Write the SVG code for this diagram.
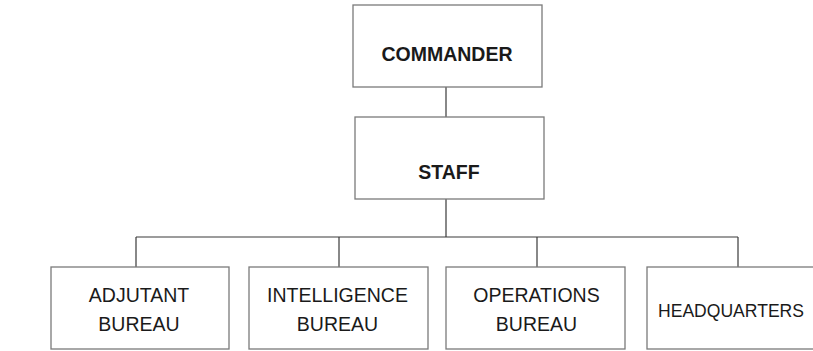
<svg xmlns="http://www.w3.org/2000/svg" width="813" height="351" viewBox="0 0 813 351">
<style>
.box{fill:#fff;stroke:#7a7a7a;stroke-width:1.3}
.t{font-family:"Liberation Sans",Arial,sans-serif;font-size:19.5px;fill:#1a1a1a;text-anchor:middle}
.b{font-weight:bold;font-size:19.5px}
.c{fill:none;stroke:#3a3a3a;stroke-width:1.2}
</style>
<rect width="813" height="351" fill="#fff"/>
<g id="connectors">
<path class="c" d="M446 87V117M446 199V237M136 237H738M136 237V267M339 237V267M537 237V267M738 237V267"/>
</g>
<g id="commander"><rect class="box" x="353" y="5" width="189" height="82"/><text class="t b" x="447" y="61">COMMANDER</text></g>
<g id="staff"><rect class="box" x="355" y="117" width="189" height="82"/><text class="t b" x="449" y="179">STAFF</text></g>
<g id="adjutant"><rect class="box" x="51" y="267" width="178" height="82"/><text class="t" x="139" y="302">ADJUTANT</text><text class="t" x="139" y="331">BUREAU</text></g>
<g id="intelligence"><rect class="box" x="249" y="267" width="179" height="82"/><text class="t" x="337.5" y="302">INTELLIGENCE</text><text class="t" x="337.5" y="331">BUREAU</text></g>
<g id="operations"><rect class="box" x="446" y="267" width="179" height="82"/><text class="t" x="536.5" y="302">OPERATIONS</text><text class="t" x="536.5" y="331">BUREAU</text></g>
<g id="headquarters"><rect class="box" x="647" y="267" width="180" height="82"/><text class="t" x="658" y="317" style="text-anchor:start;font-size:18.5px" textLength="146" lengthAdjust="spacingAndGlyphs">HEADQUARTERS</text></g>
</svg>
